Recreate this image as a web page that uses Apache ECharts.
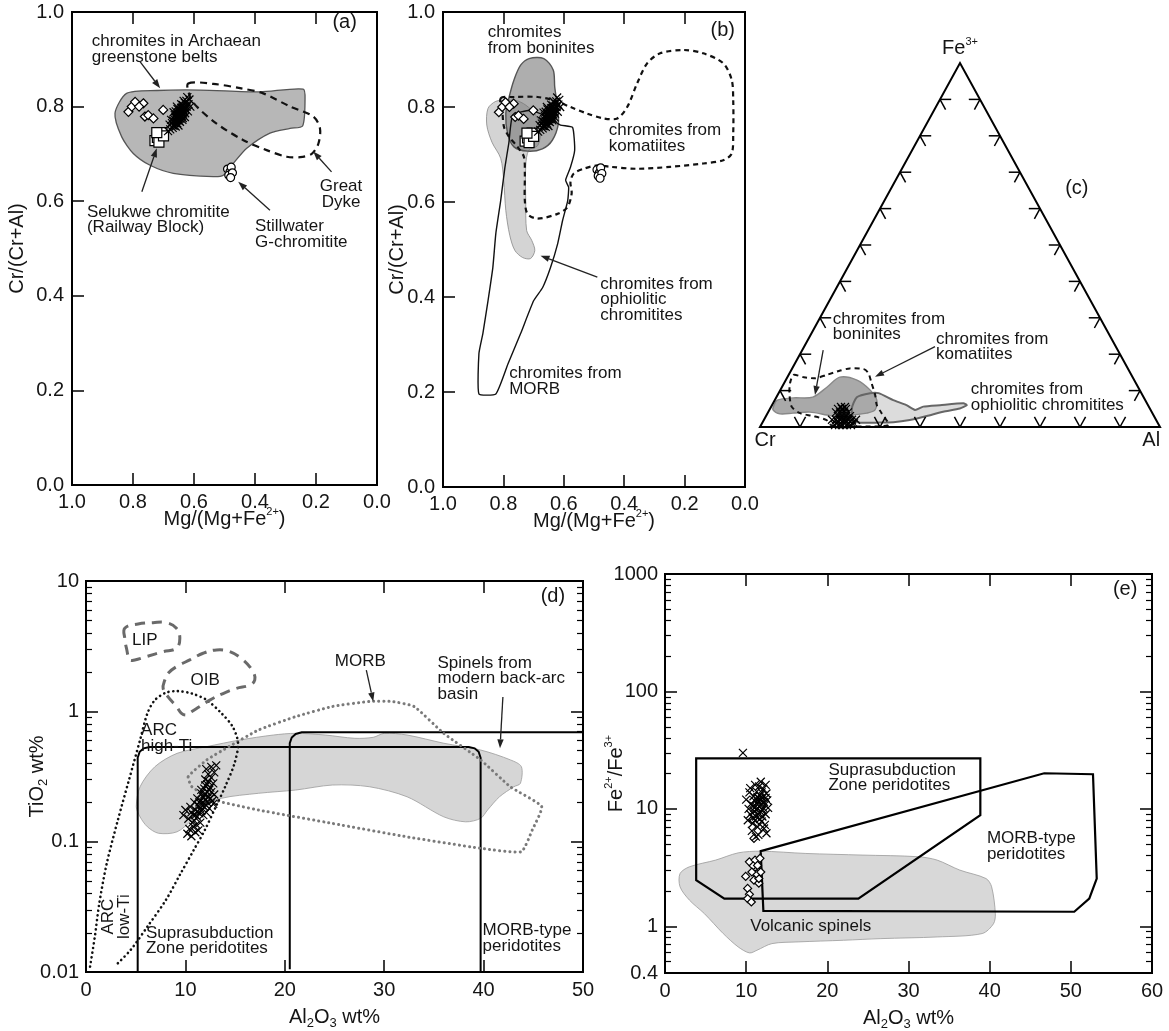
<!DOCTYPE html>
<html><head><meta charset="utf-8">
<script src="https://cdn.jsdelivr.net/npm/echarts@6/dist/echarts.min.js"></script>
<style>html,body{margin:0;padding:0;background:#fff}#c{width:1169px;height:1031px}</style>
</head><body><div id="c"></div>
<script>
// ---------------- DATA ----------------
// Panels (a) & (b): x = Mg/(Mg+Fe2+), y = Cr/(Cr+Al)
const crossesAB = [[0.685,0.748],[0.678,0.752],[0.670,0.755],[0.665,0.760],[0.672,0.765],[0.660,0.758],[0.668,0.770],[0.655,0.765],[0.662,0.772],[0.650,0.770],[0.658,0.778],[0.645,0.775],[0.652,0.782],[0.640,0.780],[0.648,0.788],[0.636,0.785],[0.644,0.792],[0.632,0.790],[0.640,0.798],[0.628,0.795],[0.636,0.803],[0.624,0.800],[0.630,0.808],[0.618,0.805],[0.625,0.812],[0.615,0.815],[0.660,0.790],[0.654,0.795],[0.663,0.782],[0.675,0.772],[0.646,0.768],[0.638,0.772],[0.630,0.778],[0.656,0.800],[0.642,0.805],[0.612,0.800],[0.620,0.790],[0.680,0.762],[0.667,0.788],[0.651,0.760],[0.634,0.812],[0.622,0.820],[0.655,0.775],[0.650,0.778],[0.645,0.782],[0.640,0.787],[0.635,0.792],[0.648,0.774],[0.643,0.779],[0.638,0.783],[0.658,0.770],[0.653,0.787],[0.647,0.793],[0.662,0.765],[0.633,0.798],[0.627,0.802],[0.668,0.760],[0.642,0.797],[0.657,0.783],[0.661,0.777],[0.637,0.776],[0.629,0.786]];
const diamondsAB = [[0.815,0.789],[0.804,0.800],[0.793,0.810],[0.766,0.807],[0.761,0.779],[0.750,0.782],[0.733,0.775],[0.701,0.793],[0.780,0.800]];
const squaresAB = [[0.728,0.728],[0.720,0.735],[0.712,0.742],[0.705,0.745],[0.715,0.725],[0.700,0.738],[0.722,0.745]];
const circlesAB = [[0.490,0.668],[0.482,0.662],[0.478,0.672],[0.486,0.655],[0.474,0.660],[0.480,0.650]];
const archaeanField = [[0.859,0.786],[0.821,0.828],[0.722,0.834],[0.580,0.835],[0.384,0.831],[0.242,0.837],[0.236,0.814],[0.244,0.759],[0.285,0.754],[0.351,0.744],[0.427,0.712],[0.471,0.680],[0.504,0.655],[0.537,0.652],[0.668,0.659],[0.744,0.676],[0.799,0.701],[0.837,0.736]];
const greatDyke = [[0.619,0.849],[0.537,0.848],[0.449,0.839],[0.373,0.828],[0.285,0.800],[0.209,0.779],[0.187,0.754],[0.192,0.722],[0.214,0.700],[0.252,0.693],[0.296,0.694],[0.362,0.708],[0.438,0.729],[0.526,0.764],[0.591,0.800],[0.613,0.821]];
const boniniteB = [[0.715,0.902],[0.666,0.902],[0.635,0.878],[0.630,0.842],[0.621,0.800],[0.618,0.765],[0.638,0.730],[0.671,0.712],[0.720,0.707],[0.765,0.716],[0.786,0.744],[0.792,0.786],[0.781,0.821],[0.765,0.857],[0.743,0.888]];
const ophioliteB = [[0.851,0.797],[0.825,0.812],[0.792,0.814],[0.759,0.814],[0.726,0.804],[0.693,0.783],[0.677,0.751],[0.686,0.719],[0.716,0.709],[0.726,0.677],[0.726,0.603],[0.723,0.540],[0.706,0.519],[0.696,0.498],[0.710,0.481],[0.736,0.483],[0.762,0.498],[0.779,0.530],[0.792,0.582],[0.799,0.646],[0.809,0.692],[0.838,0.726],[0.855,0.762]];
const morbB = [[0.881,0.196],[0.881,0.281],[0.868,0.323],[0.851,0.392],[0.835,0.462],[0.825,0.534],[0.809,0.603],[0.795,0.673],[0.782,0.724],[0.769,0.783],[0.710,0.793],[0.650,0.778],[0.611,0.762],[0.571,0.757],[0.564,0.709],[0.578,0.673],[0.594,0.646],[0.584,0.631],[0.587,0.603],[0.604,0.561],[0.620,0.513],[0.644,0.462],[0.670,0.420],[0.700,0.392],[0.743,0.323],[0.785,0.259],[0.825,0.196]];
const komatiiteB = [[0.809,0.818],[0.765,0.821],[0.687,0.821],[0.633,0.814],[0.578,0.800],[0.522,0.786],[0.468,0.776],[0.423,0.776],[0.390,0.800],[0.357,0.850],[0.324,0.892],[0.281,0.913],[0.204,0.920],[0.138,0.913],[0.072,0.892],[0.044,0.857],[0.039,0.814],[0.039,0.744],[0.044,0.702],[0.072,0.688],[0.138,0.681],[0.248,0.674],[0.357,0.670],[0.446,0.674],[0.489,0.677],[0.534,0.670],[0.567,0.660],[0.578,0.642],[0.574,0.618],[0.588,0.589],[0.621,0.575],[0.687,0.565],[0.720,0.575],[0.729,0.603],[0.729,0.660],[0.732,0.695],[0.753,0.716],[0.781,0.737],[0.798,0.758],[0.803,0.786]];

// Panel (c): ternary compositions [Cr, Al, Fe3+] (%)
const ternTicks = [0.1,0.2,0.3,0.4,0.5,0.6,0.7,0.8,0.9];
const boniniteC = [[93.5,0.5,6],[92,0.6,7.4],[87.7,4.3,8],[82.7,9.1,8.2],[77.7,11.3,11],[73.2,13.1,13.7],[69.3,17.8,12.9],[67.4,22.4,10.2],[67.1,25.5,7.4],[68.9,26.4,4.7],[71.4,24.8,3.8],[75.1,21.6,3.3],[78.7,18.6,2.7],[81.6,15.1,3.3],[85.5,10.4,4.1],[89.9,6.3,3.8],[93.2,3.2,3.6],[94.4,0.9,4.7]];
const komatiiteC = [[84.5,1.2,14.3],[82.3,4.0,13.7],[79.5,7.1,13.4],[76.2,9.5,14.3],[72.2,12.3,15.5],[69.5,14.4,16.1],[66.1,18.0,15.9],[65.5,19.7,14.8],[66.1,21.9,12],[66.8,24.4,8.8],[67.8,26.2,6.0],[67.7,28.5,3.8],[67.7,31.8,0.5],[81.9,17.6,0.5],[82.4,15.7,1.9],[85.2,11.8,3.0],[88.1,8.1,3.8],[89.3,5.1,5.6],[88.0,2.7,9.3],[86.5,1.5,12]];
const ophioliteC = [[74.5,20.4,5.1],[71.7,20.1,8.2],[67.8,22.9,9.3],[65.7,25.0,9.3],[63,29.6,7.4],[60.4,33.6,6.0],[58.9,36.4,4.7],[56.4,38.0,5.6],[52,42.0,6.0],[45.9,47.6,6.5],[45.3,48.7,6.0],[47.5,47.4,5.1],[52.1,43.7,4.2],[56.8,40.2,3.0],[61.6,36.5,1.9],[66,32.7,1.3],[70.2,28.6,1.2],[74.4,24.4,1.2],[75.7,22.4,1.9]];
const crossesC = [[78,20,2],[77,21,2],[79,19,2],[76,22,2],[80,18,2],[78,19,3],[77,20,3],[79,18,3],[76,21,3],[78,18,4],[77,19,4],[76,20,4],[79,17,4],[77,18,5],[76,19,5],[78,17,5],[77,17.5,5.5],[76,18.5,5.5],[79,20.5,0.5],[78,21.5,0.5],[80,19.5,0.5],[77,22.5,0.5],[81,18.5,0.5],[78.5,20.5,1],[77.5,21.5,1],[79.5,19.5,1],[76.5,22.5,1],[80.5,18.5,1],[76,23,1],[78,20.5,1.5],[75,23,2],[81,17,2]];

// Panel (d): x = Al2O3 wt%, y = TiO2 wt% (log)
const crossesD = [[10.2,0.115],[10.6,0.110],[11.0,0.118],[10.4,0.125],[11.3,0.122],[10.8,0.130],[9.8,0.160],[10.3,0.150],[10.9,0.145],[11.5,0.140],[11.2,0.155],[10.6,0.168],[11.8,0.160],[11.0,0.175],[11.6,0.172],[12.1,0.168],[10.5,0.185],[11.3,0.190],[11.9,0.185],[12.4,0.180],[10.9,0.200],[11.5,0.205],[12.2,0.200],[12.8,0.195],[11.2,0.215],[11.8,0.220],[12.5,0.215],[11.6,0.235],[12.2,0.240],[12.9,0.230],[11.9,0.255],[12.5,0.260],[12.2,0.275],[12.8,0.280],[12.0,0.300],[12.6,0.310],[12.3,0.330],[12.9,0.340],[12.1,0.360],[12.6,0.375],[13.1,0.385],[11.4,0.165],[12.0,0.210],[10.0,0.175],[12.4,0.250],[11.5,0.18],[11.8,0.2],[12.1,0.19],[11.2,0.17],[11.7,0.19],[12.3,0.22],[11.9,0.23],[11.4,0.2],[12.6,0.24],[11.0,0.16],[10.7,0.14],[11.1,0.135],[12.3,0.29],[12.0,0.27],[11.6,0.25],[10.8,0.16],[12.7,0.205]];
const backArcD = [[5.06,0.185],[5.44,0.264],[6.93,0.376],[9.16,0.476],[12.15,0.536],[15.5,0.603],[18.85,0.658],[21.1,0.678],[24.06,0.658],[27.04,0.621],[28.9,0.632],[30.0,0.678],[32.3,0.658],[36.0,0.569],[39.7,0.505],[42.7,0.424],[43.8,0.376],[43.7,0.280],[43.05,0.264],[41.6,0.221],[40.4,0.175],[39.7,0.151],[38.2,0.142],[36.0,0.155],[32.3,0.221],[28.5,0.264],[24.8,0.272],[21.1,0.249],[17.35,0.235],[13.6,0.215],[11.8,0.185],[10.65,0.147],[9.16,0.119],[7.30,0.116],[6.18,0.130],[5.44,0.155]];
const sszD = [[5.2,0.0101],[5.2,0.44],[5.4,0.49],[5.8,0.52],[6.4,0.533],[38.5,0.533],[39.1,0.52],[39.5,0.49],[39.7,0.44],[39.7,0.0101]];
const morbTypeD = [[20.5,0.0105],[20.5,0.57],[20.7,0.63],[21.1,0.67],[21.7,0.69],[50,0.69]];
const arcD = [[0.41,0.0110],[0.89,0.0187],[1.34,0.0337],[2.09,0.0682],[3.21,0.147],[4.32,0.297],[5.44,0.603],[6.18,0.966],[6.93,1.22],[8.04,1.39],[9.16,1.43],[10.65,1.37],[12.15,1.22],[13.63,0.966],[14.75,0.763],[15.3,0.569],[14.94,0.399],[14.0,0.264],[13.07,0.186],[11.96,0.123],[10.84,0.0863],[9.53,0.0572],[8.04,0.0357],[6.18,0.0223],[4.50,0.0148],[3.02,0.0113]];
const morbD = [[10.28,0.315],[12.15,0.424],[14.38,0.536],[17.35,0.719],[21.08,0.910],[24.8,1.09],[28.5,1.19],[30.76,1.19],[33.0,1.09],[35.98,0.678],[39.7,0.424],[42.68,0.264],[45.84,0.186],[44.9,0.123],[43.8,0.0838],[39.7,0.089],[32.26,0.109],[24.8,0.138],[17.35,0.175],[12.88,0.209],[10.65,0.264]];
const lipD = [[3.90,4.34],[3.90,3.63],[4.07,3.05],[4.41,2.48],[4.91,2.48],[6.09,2.63],[7.76,2.87],[9.10,3.05],[9.44,3.63],[9.10,4.34],[8.10,4.79],[6.75,4.79],[5.24,4.68]];
const oibD = [[7.93,1.74],[7.76,1.50],[8.26,1.29],[9.10,1.09],[9.61,0.966],[10.11,0.938],[10.61,0.994],[11.45,1.09],[12.45,1.22],[13.79,1.37],[15.14,1.50],[16.48,1.59],[16.98,1.74],[16.81,2.01],[15.81,2.48],[14.47,2.87],[13.13,2.96],[11.78,2.79],[10.44,2.48],[9.10,2.20],[8.26,1.96]];

// Panel (e): x = Al2O3 wt%, y = Fe2+/Fe3+ (log)
const crossesE = [[10.2,8.0],[10.5,9.0],[10.8,7.5],[11.0,10.2],[11.2,8.6],[11.5,11.5],[11.8,9.4],[12.0,12.5],[12.3,10.8],[10.6,11.0],[10.9,12.8],[11.3,14.0],[11.7,13.0],[12.1,14.8],[12.5,13.5],[11.1,16.0],[11.6,15.5],[10.4,13.8],[12.4,9.0],[12.6,11.8],[11.4,7.0],[11.9,7.8],[12.2,6.8],[10.7,6.5],[11.5,6.0],[12.5,6.2],[10.3,10.0],[11.0,9.5],[11.6,10.5],[12.0,8.6],[12.7,10.2],[10.8,8.4],[11.3,12.0],[11.9,11.0],[12.3,7.3],[10.5,15.0],[11.8,17.0],[12.4,16.0],[10.0,12.0],[11.2,5.8],[9.6,30],[11.2,10.5],[11.5,9.0],[11.8,11.8],[11.4,12.6],[12.1,10.2],[11.0,11.8],[11.7,8.2],[12.2,11.4],[11.3,9.8],[12.0,9.8],[11.6,12.2],[11.1,8.0],[12.4,12.4],[10.9,10.6],[11.9,13.8]];
const diamondsE = [[10.96,5.6],[10.4,3.54],[11.1,3.66],[11.7,3.79],[10.87,3.27],[11.33,3.01],[9.94,2.66],[10.96,2.47],[11.56,2.33],[10.18,2.10],[10.4,1.87],[10.18,1.72],[10.64,1.61],[11.56,2.55],[11.24,2.8],[11.4,3.3],[11.8,2.9],[10.7,2.9]];
const sszE = [[3.84,26.9],[38.85,26.9],[38.85,8.85],[23.82,1.72],[7.31,1.72],[3.84,2.47]];
const morbTypeE = [[11.79,4.36],[46.72,20.1],[52.73,19.7],[53.19,2.55],[52.27,1.72],[50.42,1.33],[12.12,1.35]];
const volcanicE = [[1.85,2.81],[3.01,3.21],[6.24,3.66],[9.02,4.22],[11.79,4.36],[17.35,4.17],[24.28,4.04],[31.22,3.91],[33.53,3.66],[36.31,3.01],[39.55,2.55],[40.24,2.17],[40.7,1.28],[40.47,1.05],[39.08,0.867],[33.53,0.811],[26.6,0.785],[21.97,0.760],[16.42,0.736],[13.18,0.712],[11.33,0.625],[10.41,0.593],[9.02,0.667],[7.17,0.867],[4.86,1.28],[3.01,1.67],[1.85,2.17]];

// Annotations (anchor in data units of each panel)
const notesA = [['chromites in Archaean\ngreenstone belts',0.935,0.921,'left'],['Selukwe chromitite\n(Railway Block)',0.951,0.561,'left'],['Stillwater\nG-chromitite',0.400,0.530,'left'],['Great\nDyke',0.118,0.615,'center'],['{big|(a)}',0.066,0.977,'right']];
const arrowsA = [[0.777,0.895,0.711,0.839],[0.771,0.620,0.722,0.712],[0.351,0.581,0.455,0.641],[0.149,0.662,0.209,0.705]];
const notesB = [['chromites\nfrom boninites',0.852,0.940,'left'],['chromites from\nkomatiites',0.451,0.734,'left'],['chromites from\nophiolitic\nchromitites',0.479,0.395,'left'],['chromites from\nMORB',0.781,0.223,'left'],['{big|(b)}',0.033,0.962,'right']];
const arrowsB = [[0.489,0.442,0.677,0.487]];
const notesC = [['{big|Fe}{sup|3+}',0.5,1.041,'center'],['{big|Cr}',0.0125,-0.036,'center'],['{big|Al}',0.978,-0.036,'center'],['{big|(c)}',0.792,0.656,'center'],['chromites from\nboninites',0.182,0.275,'left'],['chromites from\nkomatiites',0.44,0.220,'left'],['chromites from\nophiolitic chromitites',0.527,0.082,'left']];
const arrowsC = [[0.158,0.2115,0.1375,0.088],[0.4375,0.2206,0.2875,0.138]];
const notesD = [['LIP',5.92,3.49,'center'],['OIB',11.98,1.72,'center'],['MORB',27.6,2.40,'center'],['Spinels from\nmodern back-arc\nbasin',35.36,1.79,'left'],['ARC\nhigh-Ti',5.54,0.622,'left'],['ARC\nlow-Ti',3.05,0.0266,'center',1],['Suprasubduction\nZone peridotites',6.03,0.0173,'left'],['MORB-type\nperidotites',39.9,0.0181,'left'],['{big|(d)}',48.2,7.67,'right']];
const arrowsD = [[28.2,2.07,28.9,1.19],[41.94,1.29,41.65,0.52]];
const notesE = [['Suprasubduction\nZone peridotites',20.14,18.4,'left'],['MORB-type\nperidotites',39.66,4.82,'left'],['Volcanic spinels',10.5,1.0,'left'],['{big|(e)}',58.2,735,'right']];

// ---------------- RENDERING ----------------
const FONT = '"Liberation Sans", Arial, Helvetica, sans-serif';
const INK = '#151515';
const tern = c => { const s = c[0]+c[1]+c[2]; const al = c[1]/s, fe = c[2]/s; return [al + fe/2, fe]; };

function shape(xi, yi, pts, style, opts) {
  opts = opts || {};
  return {type:'custom', xAxisIndex:xi, yAxisIndex:yi, silent:true, z:opts.z || 1, data:pts,
    renderItem(params, api) {
      if (params.dataIndex !== 0) return null;
      return {type: opts.open ? 'polyline' : 'polygon',
        shape:{points: pts.map(p => api.coord(p)), smooth: opts.smooth || 0}, style: style};
    }};
}
function dots(xi, yi, data, symbol, size) {
  const isPath = symbol.indexOf('path') === 0;
  return {type:'scatter', xAxisIndex:xi, yAxisIndex:yi, silent:true, z:4, data:data, symbol:symbol, symbolSize:size,
    itemStyle:{color: isPath ? 'rgba(0,0,0,0)' : '#fff', borderColor:'#000', borderWidth:1.2, opacity:1}};
}
function arrows(xi, yi, arr) {
  return {type:'custom', xAxisIndex:xi, yAxisIndex:yi, silent:true, z:5, data:arr,
    renderItem(params, api) {
      const a = api.coord([api.value(0), api.value(1)]);
      const b = api.coord([api.value(2), api.value(3)]);
      const dx = b[0]-a[0], dy = b[1]-a[1], L = Math.hypot(dx, dy), ux = dx/L, uy = dy/L;
      const hl = 9, hw = 3.2, bx = b[0]-ux*hl, by = b[1]-uy*hl;
      return {type:'group', children:[
        {type:'line', shape:{x1:a[0], y1:a[1], x2:bx, y2:by}, style:{stroke:'#222', lineWidth:1.3}},
        {type:'polygon', shape:{points:[[b[0],b[1]],[bx-uy*hw, by+ux*hw],[bx+uy*hw, by-ux*hw]]}, style:{fill:'#222'}}
      ]};
    }};
}
const richZ = {
  big:{fontSize:20, lineHeight:24, fill:INK, fontFamily:FONT},
  sup:{fontSize:11, lineHeight:17, verticalAlign:'top', fill:INK, fontFamily:FONT}
};
function notes(xi, yi, list) {
  return {type:'custom', xAxisIndex:xi, yAxisIndex:yi, silent:true, z:6, data:list.map(n => [n[1], n[2]]),
    renderItem(params, api) {
      const n = list[params.dataIndex];
      const p = api.coord([api.value(0), api.value(1)]);
      return {type:'text', x:p[0], y:p[1], rotation: n[4] ? Math.PI/2 : 0,
        style:{text:n[0], fill:INK, fontSize:17, fontFamily:FONT, align:n[3], verticalAlign:'middle', lineHeight:15.5, rich:richZ}};
    }};
}

const nameRich = {
  n:{fontSize:20, lineHeight:26, color:INK, fontFamily:FONT},
  sup:{fontSize:11, lineHeight:18, color:INK, fontFamily:FONT, verticalAlign:'top'},
  sub:{fontSize:13, lineHeight:13, color:INK, fontFamily:FONT, verticalAlign:'bottom'}
};
const tick = {show:true, inside:true, length:12, lineStyle:{color:'#000', width:1.5}};
const minor = {show:true, splitNumber:9, length:6, lineStyle:{color:'#000', width:1.2}};
const noLine = {show:false, onZero:false};
const lbl = (extra) => Object.assign({color:INK, fontSize:20, fontFamily:FONT}, extra);
const fmtLog = v => String(parseFloat(Number(v).toPrecision(6)));
const fmt1 = v => Number(v).toFixed(1);

function linX(gi, min, max, step, opts) {
  return Object.assign({gridIndex:gi, type:'value', min:min, max:max, interval:step, axisLine:noLine,
    axisTick:tick, splitLine:{show:false}, axisLabel:{show:false}}, opts);
}
function name(text, gap) {
  return {name:text, nameLocation:'middle', nameGap:gap, nameMoveOverlap:false, nameTextStyle:{rich:nameRich, fontSize:20, fontFamily:FONT, color:INK}};
}

const gridBase = {show:true, borderColor:'#000', borderWidth:2, backgroundColor:'transparent', containLabel:false, outerBoundsMode:'none'};
const option = {
  animation:false,
  backgroundColor:'#fff',
  grid:[
    Object.assign({left:72, top:12, width:305, height:473}, gridBase),
    Object.assign({left:443, top:12, width:302, height:475}, gridBase),
    {left:760, top:63, width:400, height:364, show:false, containLabel:false, outerBoundsMode:'none'},
    Object.assign({left:86, top:581, width:497, height:391}, gridBase),
    Object.assign({left:665, top:574, width:487, height:399}, gridBase)
  ],
  xAxis:[
    linX(0,0,1,0.2,Object.assign({inverse:true, position:'bottom', axisLabel:lbl({formatter:fmt1, margin:7})}, name('{n|Mg/(Mg+Fe}{sup|2+}{n|)}',21))),
    linX(0,0,1,0.2,{inverse:true, position:'top'}),
    linX(1,0,1,0.2,Object.assign({inverse:true, position:'bottom', axisLabel:lbl({formatter:fmt1, margin:7})}, name('{n|Mg/(Mg+Fe}{sup|2+}{n|)}',21))),
    linX(1,0,1,0.2,{inverse:true, position:'top'}),
    {gridIndex:2, type:'value', min:0, max:1, show:false},
    linX(3,0,50,10,Object.assign({position:'bottom', axisLabel:lbl({margin:8})}, name('{n|Al}{sub|2}{n|O}{sub|3}{n| wt%}',32))),
    linX(3,0,50,10,{position:'top'}),
    linX(4,0,60,10,Object.assign({position:'bottom', axisLabel:lbl({margin:8})}, name('{n|Al}{sub|2}{n|O}{sub|3}{n| wt%}',32))),
    linX(4,0,60,10,{position:'top'})
  ],
  yAxis:[
    Object.assign({gridIndex:0, type:'value', position:'left', min:0, max:1, interval:0.2, axisLine:noLine, axisTick:tick, splitLine:{show:false}, axisLabel:lbl({formatter:fmt1, margin:8})}, name('{n|Cr/(Cr+Al)}',42)),
    Object.assign({gridIndex:1, type:'value', position:'left', min:0, max:1, interval:0.2, axisLine:noLine, axisTick:tick, splitLine:{show:false}, axisLabel:lbl({formatter:fmt1, margin:8})}, name('{n|Cr/(Cr+Al)}',33)),
    {gridIndex:2, type:'value', min:0, max:1, show:false},
    Object.assign({gridIndex:3, type:'log', logBase:10, position:'left', min:0.01, max:10, axisLine:noLine, axisTick:tick, minorTick:minor, splitLine:{show:false}, minorSplitLine:{show:false}, axisLabel:lbl({formatter:fmtLog, margin:7})}, name('{n|TiO}{sub|2}{n| wt%}',36)),
    {gridIndex:3, type:'log', logBase:10, min:0.01, max:10, position:'right', axisLine:noLine, axisTick:tick, minorTick:minor, splitLine:{show:false}, axisLabel:{show:false}},
    Object.assign({gridIndex:4, type:'log', logBase:10, position:'left', min:0.4, max:1000, axisLine:noLine, axisTick:tick, minorTick:minor, splitLine:{show:false}, minorSplitLine:{show:false}, axisLabel:lbl({formatter:fmtLog, margin:7})}, name('{n|Fe}{sup|2+}{n|/Fe}{sup|3+}',36)),
    {gridIndex:4, type:'log', logBase:10, min:0.4, max:1000, position:'right', axisLine:noLine, axisTick:tick, minorTick:minor, splitLine:{show:false}, axisLabel:{show:false}}
  ],
  series:[]
};

const S = option.series;
const CROSS = 'path://M0,0L10,10M10,0L0,10';
// (a)
S.push(shape(0,0,archaeanField,{fill:'#b7b7b7', stroke:'#555', lineWidth:1.3},{smooth:0.25}));
S.push(shape(0,0,greatDyke,{fill:'none', stroke:'#111', lineWidth:2.2, lineDash:[7,5]},{smooth:0.3, z:2}));
S.push(dots(0,0,squaresAB,'rect',10), dots(0,0,diamondsAB,'diamond',9), dots(0,0,circlesAB,'circle',8), dots(0,0,crossesAB,CROSS,8));
S.push(arrows(0,0,arrowsA), notes(0,0,notesA));
// (b)
S.push(shape(2,1,ophioliteB,{fill:'#d4d4d4', stroke:'#888', lineWidth:0.8},{smooth:0.3}));
S.push(shape(2,1,boniniteB,{fill:'rgba(115,115,115,0.58)', stroke:'#555', lineWidth:1.4},{smooth:0.3}));
S.push(shape(2,1,morbB,{fill:'none', stroke:'#111', lineWidth:1.4},{smooth:0.15, z:2}));
S.push(shape(2,1,komatiiteB,{fill:'none', stroke:'#111', lineWidth:2.2, lineDash:[5,4]},{smooth:0.3, z:2}));
S.push(dots(2,1,squaresAB,'rect',10), dots(2,1,diamondsAB,'diamond',9), dots(2,1,circlesAB,'circle',8), dots(2,1,crossesAB,CROSS,8));
S.push(arrows(2,1,arrowsB), notes(2,1,notesB));
// (c) ternary
S.push(shape(4,2,ophioliteC.map(tern),{fill:'#dcdcdc'},{smooth:0.2}));
S.push(shape(4,2,boniniteC.map(tern),{fill:'#a9a9a9', stroke:'#888', lineWidth:1.4},{smooth:0.3}));
S.push(shape(4,2,ophioliteC.map(tern),{fill:'none', stroke:'#666', lineWidth:2},{smooth:0.2, z:2}));
S.push(shape(4,2,komatiiteC.map(tern),{fill:'none', stroke:'#111', lineWidth:2, lineDash:[5,4]},{smooth:0.25, z:2}));
S.push(shape(4,2,[[100,0,0],[0,100,0],[0,0,100]].map(tern),{fill:'none', stroke:'#000', lineWidth:2},{z:3}));
S.push({type:'custom', xAxisIndex:4, yAxisIndex:2, silent:true, z:3, data:ternTicks.map(t => [t, 0]),
  renderItem(params, api) {
    const t = ternTicks[params.dataIndex], L = 0.028;
    const marks = [
      [[t, 0], [[-L/2, L], [L/2, L]]],
      [[t/2, t], [[L, 0], [L/2, -L]]],
      [[1 - t/2, t], [[-L, 0], [-L/2, -L]]]
    ];
    const children = [];
    marks.forEach(m => {
      const o = api.coord(m[0]);
      m[1].forEach(d => {
        const e = api.coord([m[0][0] + d[0], m[0][1] + d[1]]);
        children.push({type:'line', shape:{x1:o[0], y1:o[1], x2:e[0], y2:e[1]}, style:{stroke:'#000', lineWidth:1.5}});
      });
    });
    return {type:'group', children:children};
  }});
S.push(dots(4,2,crossesC.map(tern),CROSS,8));
S.push(arrows(4,2,arrowsC), notes(4,2,notesC));
// (d)
S.push(shape(5,3,backArcD,{fill:'#d6d6d6', stroke:'#9a9a9a', lineWidth:0.8},{smooth:0.3}));
S.push(shape(5,3,sszD,{fill:'none', stroke:'#000', lineWidth:2},{open:true, z:2}));
S.push(shape(5,3,morbTypeD,{fill:'none', stroke:'#000', lineWidth:2},{open:true, z:2}));
S.push(shape(5,3,morbD,{fill:'none', stroke:'#7a7a7a', lineWidth:3, lineDash:[0.1,5], lineCap:'round'},{smooth:0.15, z:2}));
S.push(shape(5,3,arcD,{fill:'none', stroke:'#111', lineWidth:2.6, lineDash:[0.1,4.6], lineCap:'round'},{open:true, smooth:0.3, z:2}));
S.push(shape(5,3,lipD,{fill:'none', stroke:'#6a6a6a', lineWidth:3, lineDash:[10,7]},{smooth:0.4, z:2}));
S.push(shape(5,3,oibD,{fill:'none', stroke:'#6a6a6a', lineWidth:3, lineDash:[10,7]},{smooth:0.4, z:2}));
S.push(dots(5,3,crossesD,CROSS,8));
S.push(arrows(5,3,arrowsD), notes(5,3,notesD));
// (e)
S.push(shape(7,5,volcanicE,{fill:'#d8d8d8', stroke:'#9a9a9a', lineWidth:0.8},{smooth:0.3}));
S.push(shape(7,5,sszE,{fill:'none', stroke:'#000', lineWidth:2.2},{z:2}));
S.push(shape(7,5,morbTypeE,{fill:'none', stroke:'#000', lineWidth:2.2},{z:2}));
S.push(dots(7,5,diamondsE,'diamond',8), dots(7,5,crossesE,CROSS,8));
S.push(notes(7,5,notesE));

const chart = echarts.init(document.getElementById('c'), null, {renderer:'canvas'});
chart.setOption(option);
</script></body></html>
